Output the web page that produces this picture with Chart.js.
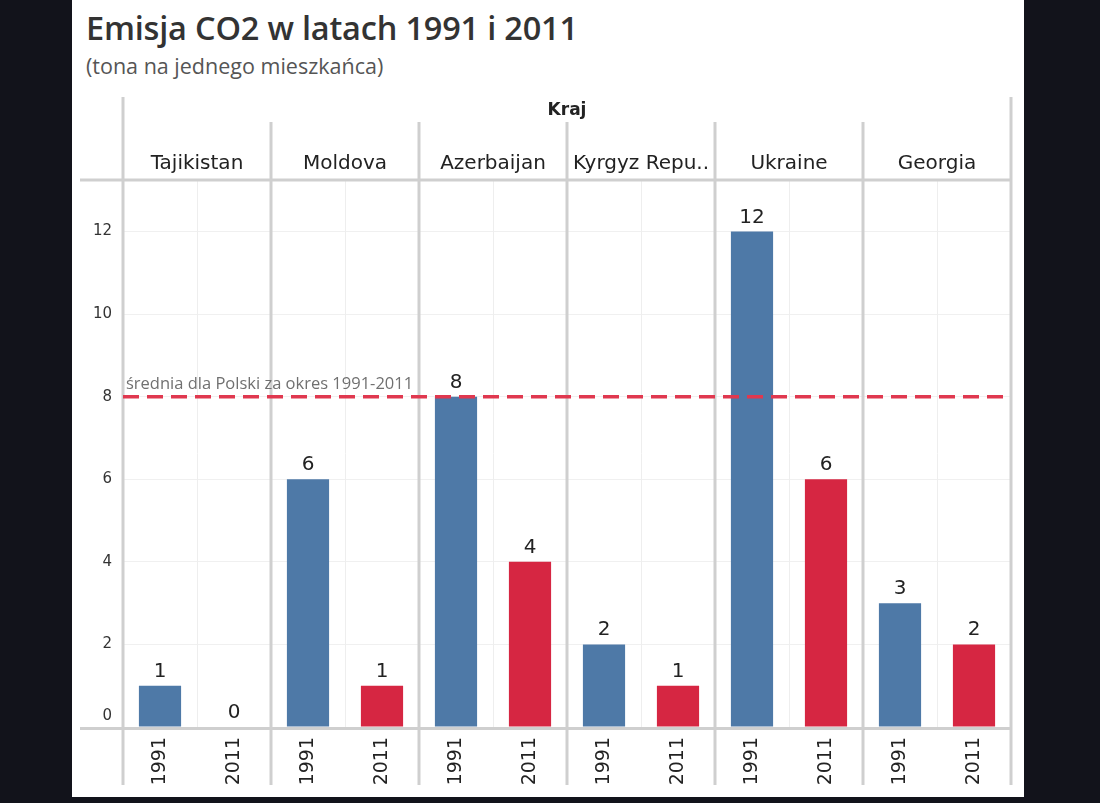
<!DOCTYPE html>
<html>
<head>
<meta charset="utf-8">
<script src="https://cdn.jsdelivr.net/npm/chart.js@4"></script>
<style>
  html, body { margin: 0; padding: 0; }
  body { width: 1100px; height: 803px; background: #12131b; position: relative; overflow: hidden; }
  #panel { position: absolute; left: 72px; top: 0; width: 952px; height: 797px; background: #fff; }
  #title { position: absolute; left: 14px; top: 6px; font-family: "Open Sans", sans-serif; font-weight: 600;
           font-size: 32.5px; line-height: 44px; color: #333; white-space: nowrap; letter-spacing: -0.2px; }
  #subtitle { position: absolute; left: 14px; top: 52px; font-family: "Open Sans", sans-serif; font-size: 21.5px;
              line-height: 28px; color: #555; white-space: nowrap; }
  #wrap { position: absolute; left: 0; top: 90px; width: 952px; height: 707px; }
</style>
</head>
<body>
<div id="panel">
  <div id="title">Emisja CO2 w latach 1991 i 2011</div>
  <div id="subtitle">(tona na jednego mieszkańca)</div>
  <div id="wrap"><canvas id="chart"></canvas></div>
</div>
<script>
// data
const countries = ['Tajikistan', 'Moldova', 'Azerbaijan', 'Kyrgyz Repu..', 'Ukraine', 'Georgia'];
const years = ['1991', '2011'];
const values1991 = [1, 6, 8, 2, 12, 3];
const values2011 = [0, 1, 4, 1, 6, 2];
const polandAvg = 8;
const polandLabel = 'średnia dla Polski za okres 1991-2011';
const facetTitle = 'Kraj';
const yMax = 13.25;
const yStep = 2;

const blue = '#4e79a7';
const red = '#d62642';
const frame = '#cfcfcf';

// one category per country/year pair
const labels = [];
const values = [];
const colors = [];
countries.forEach(function (c, i) {
    labels.push(years[0]); values.push(values1991[i]); colors.push(blue);
    labels.push(years[1]); values.push(values2011[i]); colors.push(red);
});

const facetPlugin = {
    id: 'facets',
    beforeDatasetsDraw: function (chart) {
        const ctx = chart.ctx;
        const x = chart.scales.x;
        const y = chart.scales.y;
        const area = chart.chartArea;
        const step = x.getPixelForValue(1) - x.getPixelForValue(0);
        const edge = function (i) { return x.getPixelForValue(i) - step / 2; };
        ctx.save();
        // light separators between the two years in each panel
        ctx.strokeStyle = '#eeeeee';
        ctx.lineWidth = 1;
        for (let i = 1; i < labels.length; i += 2) {
            ctx.beginPath();
            ctx.moveTo(Math.round(edge(i)) + 0.5, area.top);
            ctx.lineTo(Math.round(edge(i)) + 0.5, area.bottom);
            ctx.stroke();
        }
        // heavy frame lines
        ctx.strokeStyle = frame;
        ctx.lineWidth = 3;
        const bottomY = y.getPixelForValue(0) + 1.5;
        ctx.beginPath();
        ctx.moveTo(8, area.top); ctx.lineTo(area.right, area.top);
        ctx.moveTo(8, bottomY); ctx.lineTo(area.right, bottomY);
        ctx.stroke();
        for (let p = 0; p <= countries.length; p++) {
            const px = edge(p * 2);
            const outer = (p === 0 || p === countries.length);
            ctx.beginPath();
            ctx.moveTo(px, outer ? 7 : 32);
            ctx.lineTo(px, 695);
            ctx.stroke();
        }
        // zero tick label sits above the axis line
        ctx.fillStyle = '#333';
        ctx.font = '15px "DejaVu Sans"';
        ctx.textAlign = 'right';
        ctx.textBaseline = 'middle';
        ctx.fillText('0', area.left - 11, y.getPixelForValue(0) - 11);
        // headers
        ctx.fillStyle = '#222';
        ctx.textAlign = 'center';
        ctx.font = 'bold 17px "DejaVu Sans"';
        ctx.fillText(facetTitle, (area.left + area.right) / 2, 21);
        ctx.font = '20px "DejaVu Sans"';
        countries.forEach(function (c, i) {
            const cx = (edge(i * 2) + edge(i * 2 + 2)) / 2;
            ctx.fillText(c, cx, 74);
        });
        ctx.restore();
    },
    afterDatasetsDraw: function (chart) {
        const ctx = chart.ctx;
        const y = chart.scales.y;
        const area = chart.chartArea;
        const meta = chart.getDatasetMeta(0);
        ctx.save();
        // value labels
        ctx.fillStyle = '#222';
        ctx.font = '20px "DejaVu Sans"';
        ctx.textAlign = 'center';
        ctx.textBaseline = 'alphabetic';
        meta.data.forEach(function (bar, i) {
            ctx.fillText(String(Math.round(values[i])), bar.x, bar.y - 9);
        });
        // Poland average
        const ay = y.getPixelForValue(polandAvg);
        ctx.strokeStyle = '#e0384f';
        ctx.lineWidth = 3.5;
        ctx.setLineDash([16, 8]);
        ctx.beginPath();
        ctx.moveTo(area.left, ay);
        ctx.lineTo(area.right, ay);
        ctx.stroke();
        ctx.setLineDash([]);
        ctx.fillStyle = '#707070';
        ctx.font = '16.5px "Open Sans"';
        ctx.textAlign = 'left';
        ctx.fillText(polandLabel, area.left + 3, ay - 8);
        ctx.restore();
    }
};

new Chart(document.getElementById('chart'), {
    type: 'bar',
    data: {
        labels: labels,
        datasets: [{
            data: values,
            backgroundColor: colors,
            barPercentage: 0.57,
            categoryPercentage: 1
        }]
    },
    options: {
        responsive: true,
        maintainAspectRatio: false,
        animation: false,
        layout: { padding: { top: 90, right: 13, left: 0, bottom: 0 } },
        plugins: { legend: { display: false }, tooltip: { enabled: false } },
        scales: {
            x: {
                grid: { display: false },
                border: { display: false },
                ticks: {
                    color: '#222',
                    font: { family: 'DejaVu Sans', size: 19 },
                    minRotation: 90,
                    maxRotation: 90,
                    autoSkip: false,
                    padding: 2
                },
                afterFit: function (s) { s.height = 70; }
            },
            y: {
                min: 0,
                max: yMax,
                grid: { color: '#f0f0f0', drawTicks: false },
                border: { display: false },
                ticks: {
                    stepSize: yStep,
                    includeBounds: false,
                    color: '#333',
                    font: { family: 'DejaVu Sans', size: 15 },
                    padding: 11,
                    callback: function (v) { return v === 0 ? '' : v; }
                },
                afterFit: function (s) { s.width = 51; }
            }
        }
    },
    plugins: [facetPlugin]
});
</script>
</body>
</html>
